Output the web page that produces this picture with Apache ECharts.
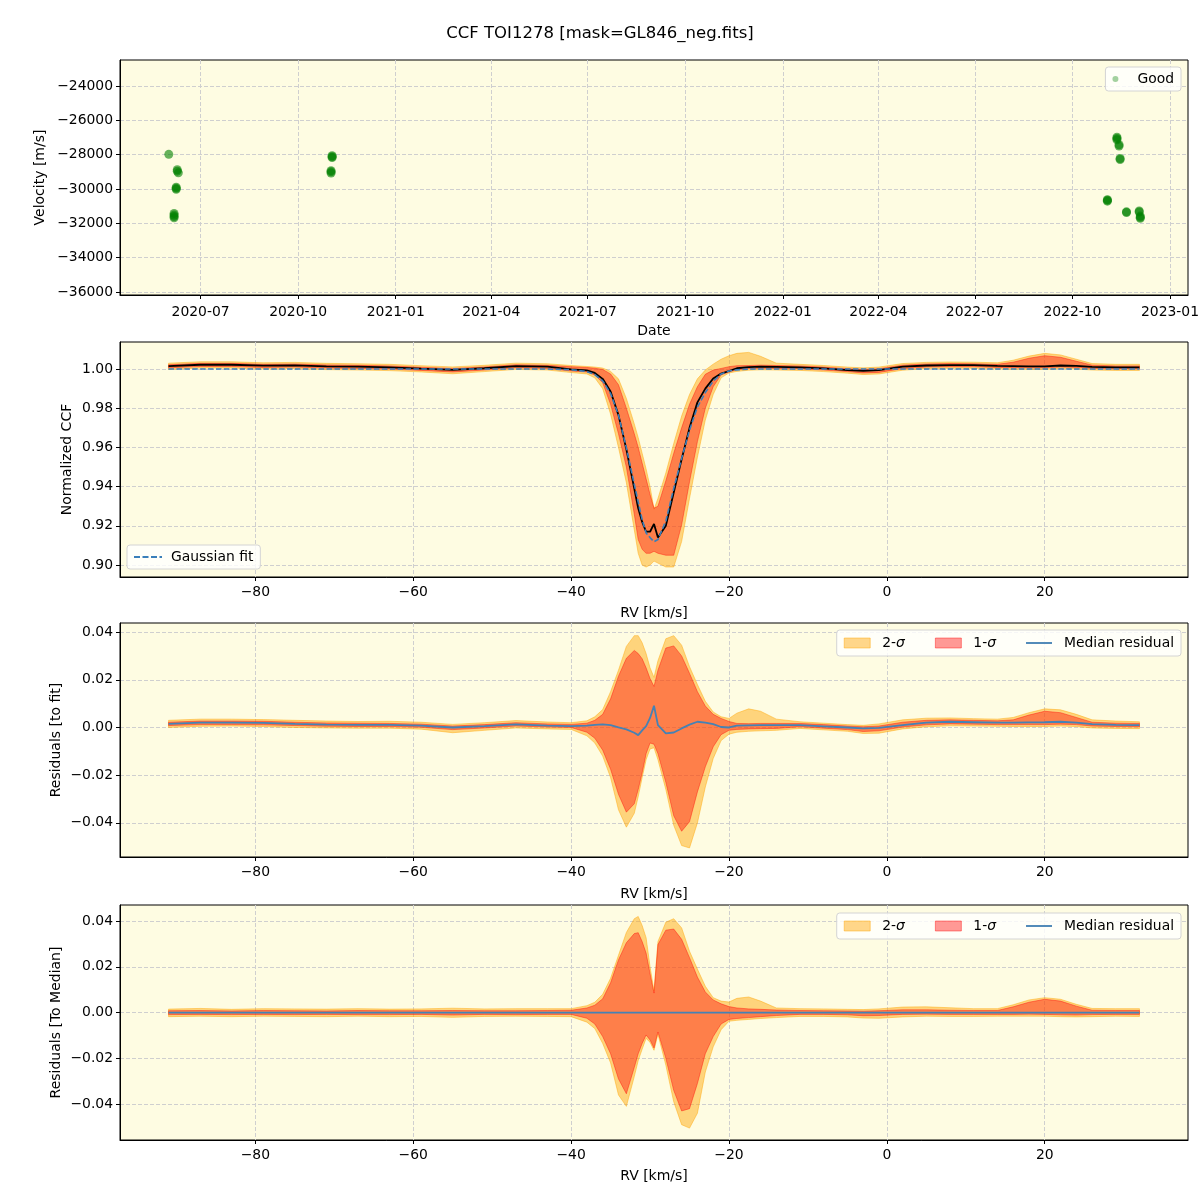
<!DOCTYPE html>
<html>
<head>
<meta charset="utf-8">
<title>CCF TOI1278</title>
<script src="https://cdn.jsdelivr.net/npm/echarts@6/dist/echarts.min.js"></script>
<style>
  html, body { margin: 0; padding: 0; background: #fff; }
  #chart { width: 1200px; height: 1200px; }
</style>
</head>
<body>
<div id="chart"></div>
<script>
// --- observations (top panel) ---
const obsDates = ['2020-06-01',
  '2020-06-09', '2020-06-09', '2020-06-10',
  '2020-06-08', '2020-06-08', '2020-06-08',
  '2020-06-06', '2020-06-06', '2020-06-06', '2020-06-06',
  '2020-11-02', '2020-11-02', '2020-11-02',
  '2020-11-01', '2020-11-01', '2020-11-01',
  '2022-11-12', '2022-11-12', '2022-11-12', '2022-11-14', '2022-11-14', '2022-11-15', '2022-11-15',
  '2022-11-03', '2022-11-03', '2022-11-03',
  '2022-11-21', '2022-11-21',
  '2022-12-03', '2022-12-03', '2022-12-04', '2022-12-04', '2022-12-04']
const obsVel = [-27980,
  -28880, -28960, -29060,
  -29900, -29960, -30020,
  -31420, -31520, -31600, -31680,
  -28060, -28120, -28170,
  -28930, -29000, -29070,
  -26980, -27060, -27130, -27420, -27500, -28220, -28280,
  -30620, -30660, -30710,
  -31330, -31370,
  -31280, -31340, -31580, -31650, -31710]

// --- RV grid (km/s) ---
const rv = [-91, -87, -83, -79, -75, -71, -67, -63, -59, -55, -51, -47, -43,
  -40, -38, -37, -36, -35, -34, -33, -32, -31.5, -31, -30.5, -30, -29.5, -29, -28, -27, -26, -25, -24, -23, -22, -21, -20, -19,
  -17.5, -16, -14,
  -11, -8, -5, -3, -1, 2, 5, 8, 11, 14, 16, 18, 20, 22, 24, 26, 29, 32]

// normalized CCF
const ccfMedian = [1.0015, 1.0022, 1.0022, 1.0017, 1.0019, 1.0014, 1.0012, 1.0009, 1.0002, 0.9996, 1.0004, 1.0015, 1.0012,
  0.9998, 0.9993, 0.998, 0.995, 0.9885, 0.9765, 0.959, 0.939, 0.929, 0.922, 0.917, 0.917, 0.921, 0.914, 0.920, 0.937, 0.954, 0.970, 0.983, 0.990, 0.9952, 0.9977, 0.999, 1.0004,
  1.001, 1.0012, 1.0011,
  1.0009, 1.0003, 0.9995, 0.9991, 0.9994, 1.0012, 1.0018, 1.002, 1.002, 1.0016, 1.0015, 1.0014, 1.0014, 1.0018, 1.0016, 1.0011, 1.0009, 1.0009]
const ccfFit = [1.0, 1.0, 1.0, 1.0, 1.0, 1.0, 1.0, 1.0, 1.0, 1.0, 1.0, 1.0, 1.0,
  0.9997, 0.9987, 0.9972, 0.994, 0.9875, 0.9765, 0.9598, 0.9412, 0.9322, 0.9232, 0.9164, 0.914, 0.9119, 0.913, 0.9225, 0.9391, 0.9544, 0.9688, 0.9806, 0.988, 0.9938, 0.9975, 0.999, 0.9996,
  1.0, 1.0, 1.0,
  1.0, 1.0, 1.0, 1.0, 1.0, 1.0, 1.0, 1.0, 1.0, 1.0, 1.0, 1.0, 1.0, 1.0, 1.0, 1.0, 1.0, 1.0]
const ccf1sLo = [1.0006, 1.0013, 1.0013, 1.0008, 1.001, 1.0005, 1.0003, 1.0, 0.9993, 0.9985, 0.9995, 1.0006, 1.0003,
  0.999, 0.9985, 0.997, 0.993, 0.982, 0.967, 0.950, 0.926, 0.913, 0.908, 0.906, 0.906, 0.907, 0.906, 0.905, 0.905, 0.9205, 0.9425, 0.963, 0.980, 0.991, 0.997, 0.9985, 0.9997,
  1.0002, 1.0004, 1.0003,
  1.0001, 0.9995, 0.9987, 0.998, 0.9983, 1.0002, 1.001, 1.0012, 1.0012, 1.0008, 1.0007, 1.0006, 1.0006, 1.001, 1.0008, 1.0003, 1.0001, 1.0001]
const ccf1sHi = [1.0022, 1.0029, 1.0029, 1.0024, 1.0026, 1.0021, 1.0019, 1.0016, 1.0009, 1.0003, 1.0011, 1.0022, 1.0019,
  1.0012, 1.0008, 1.0004, 0.9998, 0.9975, 0.992, 0.980, 0.967, 0.960, 0.952, 0.944, 0.936, 0.929, 0.930, 0.943, 0.957, 0.970, 0.982, 0.991, 0.9973, 0.9995, 1.0003, 1.0012, 1.0017,
  1.0018, 1.002, 1.0018,
  1.0016, 1.001, 1.0002, 0.9998, 1.0002, 1.002, 1.0026, 1.0028, 1.0027, 1.0024, 1.0035, 1.0055, 1.0068, 1.006, 1.004, 1.002, 1.0016, 1.0016]
const ccf2sLo = [0.9998, 1.0005, 1.0005, 1.0, 1.0002, 0.9997, 0.9995, 0.9992, 0.9985, 0.9976, 0.9987, 0.9998, 0.9995,
  0.9982, 0.9975, 0.9955, 0.990, 0.977, 0.960, 0.942, 0.918, 0.906, 0.900, 0.899, 0.900, 0.902, 0.901, 0.899, 0.899, 0.912, 0.934, 0.955, 0.974, 0.987, 0.9955, 0.998, 0.9988,
  0.9994, 0.9996, 0.9995,
  0.9993, 0.9987, 0.9979, 0.9972, 0.9975, 0.9994, 1.0002, 1.0004, 1.0004, 1.0, 0.9999, 0.9998, 0.9998, 1.0002, 1.0, 0.9995, 0.9993, 0.9993]
const ccf2sHi = [1.003, 1.0037, 1.0037, 1.0032, 1.0034, 1.0029, 1.0027, 1.0024, 1.0017, 1.0011, 1.0019, 1.003, 1.0027,
  1.0018, 1.0013, 1.001, 1.0005, 0.9988, 0.995, 0.985, 0.972, 0.965, 0.957, 0.949, 0.940, 0.9285, 0.934, 0.947, 0.962, 0.976, 0.987, 0.995, 0.9995, 1.0025, 1.005, 1.0068, 1.008,
  1.0085, 1.0065, 1.003,
  1.0024, 1.0018, 1.001, 1.0006, 1.001, 1.0028, 1.0034, 1.0036, 1.0035, 1.0032, 1.0045, 1.0066, 1.008, 1.0072, 1.005, 1.0028, 1.0024, 1.0024]

// residuals to fit
const fitRes = [0.0015, 0.002, 0.002, 0.0019, 0.0015, 0.0012, 0.0011, 0.0011, 0.0008, 0.0, 0.0006, 0.0013, 0.0008,
  0.0006, 0.0008, 0.0011, 0.0013, 0.001, 0.0, -0.0008, -0.0022, -0.0032, -0.0012, 0.0006, 0.004, 0.0091, 0.001, -0.0025, -0.0021, -0.0004, 0.0012, 0.0024, 0.002, 0.0014, 0.0002, 0.0, 0.0008,
  0.0009, 0.001, 0.001,
  0.001, 0.0005, 0.0, -0.0004, -0.0002, 0.001, 0.002, 0.0024, 0.0022, 0.002, 0.002, 0.0021, 0.0022, 0.0024, 0.002, 0.0014, 0.0011, 0.001]
const fit1sLo = [0.0008, 0.0012, 0.0012, 0.0011, 0.0008, 0.0005, 0.0004, 0.0004, 0.0001, -0.0009, -0.0002, 0.0006, 0.0002,
  0.0, -0.002, -0.0045, -0.0095, -0.0175, -0.028, -0.0355, -0.032, -0.026, -0.019, -0.011, -0.0065, -0.007, -0.011, -0.023, -0.037, -0.0435, -0.0395, -0.027, -0.0165, -0.0081, -0.003, -0.0012, -0.0008,
  -0.0006, -0.0005, -0.0004,
  0.0003, -0.0003, -0.0009, -0.0017, -0.0014, 0.0002, 0.0011, 0.0015, 0.0014, 0.0012, 0.0012, 0.0012, 0.0012, 0.0014, 0.0012, 0.0006, 0.0004, 0.0003]
const fit1sHi = [0.0022, 0.0027, 0.0027, 0.0026, 0.0022, 0.0019, 0.0018, 0.0017, 0.0014, 0.0006, 0.0012, 0.002, 0.0015,
  0.0013, 0.0018, 0.003, 0.0055, 0.012, 0.0215, 0.029, 0.0323, 0.031, 0.0288, 0.025, 0.0205, 0.0172, 0.024, 0.0333, 0.0342, 0.030, 0.0227, 0.015, 0.009, 0.0055, 0.0038, 0.0025, 0.0017,
  0.0016, 0.0017, 0.0017,
  0.0017, 0.0012, 0.0006, 0.0003, 0.0006, 0.0022, 0.003, 0.0032, 0.003, 0.0028, 0.0032, 0.0052, 0.0068, 0.0062, 0.0042, 0.0022, 0.0018, 0.0017]
const fit2sLo = [0.0, 0.0005, 0.0006, 0.0004, 0.0, -0.0002, -0.0003, -0.0003, -0.0007, -0.0022, -0.0012, -0.0002, -0.0006,
  -0.0008, -0.0035, -0.0065, -0.012, -0.021, -0.0345, -0.0418, -0.036, -0.029, -0.021, -0.0135, -0.009, -0.0085, -0.0135, -0.026, -0.041, -0.0495, -0.0505, -0.04, -0.025, -0.013, -0.0055, -0.0028, -0.002,
  -0.0016, -0.0014, -0.0012,
  -0.0004, -0.001, -0.0016, -0.0025, -0.0024, -0.0006, 0.0003, 0.0007, 0.0006, 0.0005, 0.0004, 0.0004, 0.0004, 0.0006, 0.0004, -0.0002, -0.0004, -0.0005]
const fit2sHi = [0.003, 0.0035, 0.0035, 0.0033, 0.003, 0.0027, 0.0025, 0.0026, 0.0022, 0.0013, 0.002, 0.0029, 0.0023,
  0.002, 0.0028, 0.0045, 0.0075, 0.015, 0.024, 0.034, 0.0385, 0.0385, 0.0355, 0.031, 0.025, 0.021, 0.028, 0.0372, 0.0385, 0.0345, 0.0255, 0.018, 0.011, 0.0065, 0.0045, 0.0038, 0.006,
  0.0078, 0.0068, 0.0035,
  0.0024, 0.0018, 0.0012, 0.0009, 0.0015, 0.0032, 0.0039, 0.004, 0.0037, 0.0035, 0.0042, 0.0062, 0.0078, 0.0074, 0.0055, 0.0032, 0.0027, 0.0024]

// residuals to median
const medRes = [0, 0, 0, 0, 0, 0, 0, 0, 0, 0, 0, 0, 0,
  0, 0, 0, 0, 0, 0, 0, 0, 0, 0, 0, 0, 0, 0, 0, 0, 0, 0, 0, 0, 0, 0, 0, 0,
  0, 0, 0,
  0, 0, 0, 0, 0, 0, 0, 0, 0, 0, 0, 0, 0, 0, 0, 0, 0, 0]
const med1sLo = [-0.0009, -0.0008, -0.0009, -0.0008, -0.0009, -0.0008, -0.0009, -0.0009, -0.0008, -0.0011, -0.0008, -0.0009, -0.0008,
  -0.0008, -0.0025, -0.005, -0.0105, -0.018, -0.029, -0.0355, -0.024, -0.018, -0.0135, -0.0098, -0.012, -0.0155, -0.0085, -0.02, -0.034, -0.043, -0.042, -0.031, -0.018, -0.0105, -0.005, -0.003, -0.0026,
  -0.0022, -0.0018, -0.0013,
  -0.0008, -0.0008, -0.001, -0.0014, -0.0013, -0.0008, -0.0007, -0.0008, -0.0008, -0.0008, -0.0008, -0.0007, -0.0008, -0.001, -0.0011, -0.0009, -0.0008, -0.0008]
const med1sHi = [0.0008, 0.0009, 0.0007, 0.0009, 0.0008, 0.0007, 0.0009, 0.0008, 0.0008, 0.0009, 0.0008, 0.0008, 0.0009,
  0.001, 0.002, 0.0032, 0.006, 0.013, 0.023, 0.0305, 0.0345, 0.0349, 0.031, 0.026, 0.017, 0.0085, 0.0297, 0.036, 0.0365, 0.032, 0.024, 0.0155, 0.009, 0.0055, 0.0038, 0.0026, 0.002,
  0.0016, 0.0014, 0.0011,
  0.0009, 0.0008, 0.0007, 0.0006, 0.0008, 0.0012, 0.0012, 0.001, 0.0009, 0.0009, 0.0025, 0.0045, 0.0058, 0.005, 0.0028, 0.001, 0.0009, 0.0009]
const med2sLo = [-0.0018, -0.0016, -0.0018, -0.0016, -0.0017, -0.0018, -0.0016, -0.0018, -0.0017, -0.0021, -0.0017, -0.0016, -0.0017,
  -0.0018, -0.0042, -0.007, -0.0135, -0.022, -0.036, -0.041, -0.028, -0.021, -0.016, -0.0113, -0.013, -0.0165, -0.0095, -0.023, -0.039, -0.049, -0.0505, -0.044, -0.026, -0.015, -0.0075, -0.0038, -0.0034,
  -0.003, -0.0026, -0.0022,
  -0.0017, -0.0017, -0.0019, -0.0024, -0.0025, -0.0019, -0.0016, -0.0017, -0.0017, -0.0016, -0.0016, -0.0016, -0.0016, -0.0018, -0.0019, -0.0018, -0.0016, -0.0017]
const med2sHi = [0.0015, 0.0018, 0.0014, 0.0017, 0.0016, 0.0015, 0.0017, 0.0015, 0.0016, 0.0019, 0.0016, 0.0017, 0.0017,
  0.0017, 0.003, 0.0045, 0.008, 0.015, 0.025, 0.035, 0.041, 0.042, 0.038, 0.0327, 0.02, 0.0095, 0.031, 0.0395, 0.041, 0.037, 0.0268, 0.019, 0.0115, 0.0065, 0.005, 0.0046, 0.0062,
  0.0068, 0.005, 0.002,
  0.0017, 0.0016, 0.0014, 0.0013, 0.0016, 0.0024, 0.0025, 0.0021, 0.0017, 0.0017, 0.0034, 0.0055, 0.0065, 0.0058, 0.0036, 0.0018, 0.0017, 0.0017]

// --- tick labels ---
const dateTicks = ['2020-07', '2020-10', '2021-01', '2021-04', '2021-07', '2021-10', '2022-01', '2022-04', '2022-07', '2022-10', '2023-01']
const velTicks = [-36000, -34000, -32000, -30000, -28000, -26000, -24000]
const rvTicks = [-80, -60, -40, -20, 0, 20]
const ccfTicks = [0.90, 0.92, 0.94, 0.96, 0.98, 1.00]
const resTicks = [-0.04, -0.02, 0.00, 0.02, 0.04]

const FONT = 'DejaVu Sans'
const BG = '#fefce2'
const YEL = 'rgba(255,165,0,0.45)'
const RED = 'rgba(255,0,0,0.4)'
const BLUE = 'steelblue'

const toMs = s => Date.parse(s + 'T00:00:00Z')
const minus = s => String(s).replace('-', '\u2212')

function axis(gridIndex, min, max, ticks, fmt, name, nameGap, labelMargin) {
  return {
    type: 'value',
    gridIndex: gridIndex,
    min: min,
    max: max,
    name: name,
    nameLocation: 'middle',
    nameGap: nameGap,
    nameMoveOverlap: false,
    nameTextStyle: { fontFamily: FONT, fontSize: 14, color: '#000' },
    axisLine: { show: true, onZero: false, lineStyle: { color: '#000', width: 1 } },
    axisTick: { show: true, inside: false, length: 4, customValues: ticks, lineStyle: { color: '#000', width: 1 } },
    axisLabel: {
      show: true, customValues: ticks, formatter: fmt, margin: labelMargin || 7,
      fontFamily: FONT, fontSize: 13.9, color: '#000', hideOverlap: false
    },
    splitLine: { show: true, lineStyle: { color: '#cfcfcf', width: 1, type: [4, 2] } }
  }
}

function band(name, idx, lo, hi, color) {
  return {
    name: name,
    type: 'custom',
    xAxisIndex: idx,
    yAxisIndex: idx,
    data: rv.map((x, i) => [x, lo[i], hi[i]]),
    encode: { x: 0, y: [1, 2] },
    clip: true,
    silent: true,
    renderItem: function (params, api) {
      if (params.dataIndex !== 0) return null
      const pts = []
      for (let i = 0; i < rv.length; i++) pts.push(api.coord([rv[i], hi[i]]))
      for (let i = rv.length - 1; i >= 0; i--) pts.push(api.coord([rv[i], lo[i]]))
      return {
        type: 'polygon',
        shape: { points: pts },
        style: { fill: color, stroke: color, lineWidth: 1 }
      }
    }
  }
}

function line(name, idx, values, style) {
  return {
    name: name,
    type: 'line',
    xAxisIndex: idx,
    yAxisIndex: idx,
    data: rv.map((x, i) => [x, values[i]]),
    symbol: 'none',
    silent: true,
    z: 3,
    lineStyle: style
  }
}

const sigmaLegend = (top) => ({
  right: 19,
  top: top,
  selectedMode: false,
  itemGap: 30,
  itemWidth: 26,
  itemHeight: 10,
  padding: [6, 7, 6, 7],
  backgroundColor: 'rgba(255,255,255,0.8)',
  borderColor: '#d4d4d4',
  borderWidth: 1,
  borderRadius: 3,
  formatter: n => n.replace('σ', '{s|σ}'),
  textStyle: {
    fontFamily: FONT, fontSize: 13.9, color: '#000', padding: [0, 0, 0, 7],
    rich: { s: { fontFamily: FONT, fontSize: 13.9, fontStyle: 'italic', color: '#000' } }
  },
  data: [
    { name: '2-σ', icon: 'rect', itemStyle: { color: YEL, borderColor: YEL, borderWidth: 1 } },
    { name: '1-σ', icon: 'rect', itemStyle: { color: RED, borderColor: RED, borderWidth: 1 } },
    { name: 'Median residual', icon: 'path://M0,0h28v2h-28z', itemStyle: { color: BLUE } }
  ]
})

const chart = echarts.init(document.getElementById('chart'), null, { renderer: 'canvas' })

chart.setOption({
  backgroundColor: '#fff',
  animation: false,
  title: {
    text: 'CCF TOI1278 [mask=GL846_neg.fits]',
    left: 'center',
    top: 20,
    textStyle: { fontFamily: FONT, fontSize: 16.5, fontWeight: 'normal', color: '#000' }
  },
  grid: [
    { left: 120, top: 60, width: 1068, height: 235 },
    { left: 120, top: 342, width: 1068, height: 235 },
    { left: 120, top: 623, width: 1068, height: 234 },
    { left: 120, top: 905, width: 1068, height: 235 }
  ].map(g => Object.assign(g, {
    show: true, backgroundColor: BG, borderColor: '#000', borderWidth: 1,
    containLabel: false, outerBoundsMode: 'none'
  })),
  xAxis: [
    axis(0, toMs('2020-04-16'), toMs('2023-01-18'), dateTicks.map(d => toMs(d + '-01')), v => {
      const d = new Date(v)
      return d.getUTCFullYear() + '-' + String(d.getUTCMonth() + 1).padStart(2, '0')
    }, 'Date', 29, 10),
    axis(1, -97.15, 38.15, rvTicks, v => minus(v), 'RV [km/s]', 29, 8),
    axis(2, -97.15, 38.15, rvTicks, v => minus(v), 'RV [km/s]', 30, 8),
    axis(3, -97.15, 38.15, rvTicks, v => minus(v), 'RV [km/s]', 29, 8)
  ],
  yAxis: [
    axis(0, -36175, -22485, velTicks, v => minus(v), 'Velocity [m/s]', 73),
    axis(1, 0.8939, 1.0138, ccfTicks, v => v.toFixed(2), 'Normalized CCF', 46),
    axis(2, -0.0543, 0.0438, resTicks, v => minus(v.toFixed(2)), 'Residuals [to fit]', 57),
    axis(3, -0.0557, 0.047, resTicks, v => minus(v.toFixed(2)), 'Residuals [To Median]', 57)
  ],
  legend: [
    {
      right: 19, top: 67, selectedMode: false,
      itemWidth: 26, itemHeight: 6,
      padding: [5, 7, 5, 7],
      backgroundColor: 'rgba(255,255,255,0.8)', borderColor: '#d4d4d4', borderWidth: 1, borderRadius: 3,
      textStyle: { fontFamily: FONT, fontSize: 13.9, color: '#000', padding: [0, 0, 0, 4] },
      data: [{ name: 'Good', icon: 'circle', itemStyle: { color: 'rgba(0,128,0,0.6)' } }]
    },
    {
      left: 127, top: 545, selectedMode: false,
      itemWidth: 28, itemHeight: 10,
      padding: [5, 7, 5, 7],
      backgroundColor: 'rgba(255,255,255,0.8)', borderColor: '#d4d4d4', borderWidth: 1, borderRadius: 3,
      textStyle: { fontFamily: FONT, fontSize: 13.9, color: '#000', padding: [0, 0, 0, 4] },
      data: [{ name: 'Gaussian fit', icon: 'path://M0,0h6v2h-6zM8.5,0h6v2h-6zM17,0h6v2h-6zM25.5,0h2.5v2h-2.5z', itemStyle: { color: '#3a7fba' } }]
    },
    sigmaLegend(630),
    sigmaLegend(913)
  ],
  series: [
    {
      name: 'Good',
      type: 'scatter',
      xAxisIndex: 0,
      yAxisIndex: 0,
      symbolSize: 9,
      silent: true,
      itemStyle: { color: 'green', opacity: 0.6 },
      data: obsDates.map((d, i) => [toMs(d), obsVel[i]])
    },
    band('2-σ CCF', 1, ccf2sLo, ccf2sHi, YEL),
    band('1-σ CCF', 1, ccf1sLo, ccf1sHi, RED),
    line('Median CCF', 1, ccfMedian, { color: '#000', width: 1.8 }),
    line('Gaussian fit', 1, ccfFit, { color: '#3a7fba', width: 1.6, type: [5.5, 2.4] }),
    band('2-σ', 2, fit2sLo, fit2sHi, YEL),
    band('1-σ', 2, fit1sLo, fit1sHi, RED),
    line('Median residual', 2, fitRes, { color: BLUE, width: 1.8 }),
    band('2-σ', 3, med2sLo, med2sHi, YEL),
    band('1-σ', 3, med1sLo, med1sHi, RED),
    line('Median residual', 3, medRes, { color: BLUE, width: 1.8 })
  ]
})
</script>
</body>
</html>
